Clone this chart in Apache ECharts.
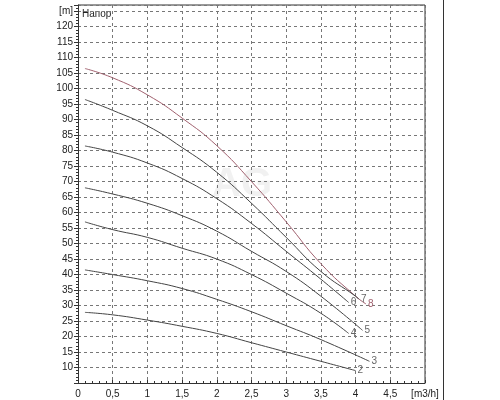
<!DOCTYPE html>
<html><head><meta charset="utf-8">
<script src="https://cdn.jsdelivr.net/npm/echarts@6/dist/echarts.min.js"></script>
<style>html,body{margin:0;padding:0;background:#fff}#c{width:500px;height:400px}</style>
</head><body><div id="c"></div>
<script>
const xs = [0.1, 0.5, 1, 1.5, 2, 2.5, 3, 3.5, 4];
const curveNames = ['8','7','6','5','4','3','2'];
const c8 = [[0.1,106.5],[0.5,103.5],[1,98],[1.5,90.5],[2,81.6],[2.5,70],[3,57],[3.5,43.5],[4,33],[4.15,30.5]];
const c7 = [[0.1,96.5],[0.5,93],[1,88],[1.5,81],[2,73],[2.5,63],[3,52],[3.5,41],[4,33],[4.05,32]];
const c6 = [[0.1,81.5],[0.5,79.5],[1,76],[1.5,71],[2,64.5],[2.5,56.5],[3,47.5],[3.5,38.5],[3.9,31]];
const c5 = [[0.1,68],[0.5,66],[1,63],[1.5,59],[2,54],[2.5,47.5],[3,41],[3.5,33],[4.1,22]];
const c4 = [[0.1,57],[0.5,54.5],[1,52],[1.5,48.5],[2,45],[2.5,40],[3,34],[3.5,27.5],[3.9,21]];
const c3 = [[0.1,41.5],[0.5,40],[1,38],[1.5,35.5],[2,32],[2.5,28],[3,23.5],[3.5,19],[4.2,12]];
const c2 = [[0.1,27.8],[0.5,27],[1,25.3],[1.5,23.3],[2,21],[2.5,18],[3,15],[3.5,12],[4,9]];
const curves = [c8,c7,c6,c5,c4,c3,c2];
const colors = ['#a0606e','#444','#444','#444','#444','#444','#444'];
const xLabels = {0:'0',0.5:'0,5',1:'1',1.5:'1,5',2:'2',2.5:'2,5',3:'3',3.5:'3,5',4:'4',4.5:'4,5',5:'[m3/h]'};
const chart = echarts.init(document.getElementById('c'));
const txt = {fontFamily:'Liberation Sans',fontSize:10,color:'#222'};
chart.setOption({
  animation:false,
  grid:{left:78,right:75,top:5,bottom:17},
  xAxis:{type:'value',min:0,max:5,interval:0.5,
    axisLine:{lineStyle:{color:'#333'}},axisTick:{show:true,inside:true,length:3,lineStyle:{color:'#333'}},
    minorTick:{show:true,splitNumber:5,length:2,lineStyle:{color:'#333'}},
    axisLabel:Object.assign({},txt,{formatter:v=>xLabels[v]!==undefined?xLabels[v]:'',margin:6}),
    splitLine:{show:true,lineStyle:{color:'#777',type:[3,3]}}},
  yAxis:{type:'value',min:5,max:127,interval:5,
    axisLine:{show:true,lineStyle:{color:'#333'}},axisTick:{show:true,inside:false,length:4,lineStyle:{color:'#333'}},
    minorTick:{show:true,splitNumber:5,length:2,lineStyle:{color:'#333'}},
    axisLabel:Object.assign({},txt,{formatter:v=>v===125?'[m]':(v===5?'':String(v)),margin:5}),
    splitLine:{show:true,lineStyle:{color:'#777',type:[3,3]}}},
  graphic:[
    {type:'text',left:82,top:9,style:{text:'Напор',font:'10px Liberation Sans',fill:'#222'}},
    {type:'text',left:212,top:165,style:{text:'AG',font:'bold 40px Liberation Sans',fill:'rgba(200,200,200,0.25)'}},
    {type:'line',shape:{x1:425,y1:5,x2:425,y2:383},style:{stroke:'#333',lineWidth:1}},
    {type:'line',shape:{x1:78,y1:5,x2:425,y2:5},style:{stroke:'#333',lineWidth:1}},
    {type:'line',shape:{x1:443.5,y1:0,x2:443.5,y2:400},style:{stroke:'#333',lineWidth:1}}
  ],
  series:curves.map((d,i)=>({type:'line',name:curveNames[i],data:d,smooth:true,showSymbol:false,
    lineStyle:{width:1,color:colors[i]},
    endLabel:{show:true,formatter:'{a}',fontSize:10,fontFamily:'Liberation Sans',color:i===0?'#a0606e':'#666',distance:2}}))
});
</script></body></html>
